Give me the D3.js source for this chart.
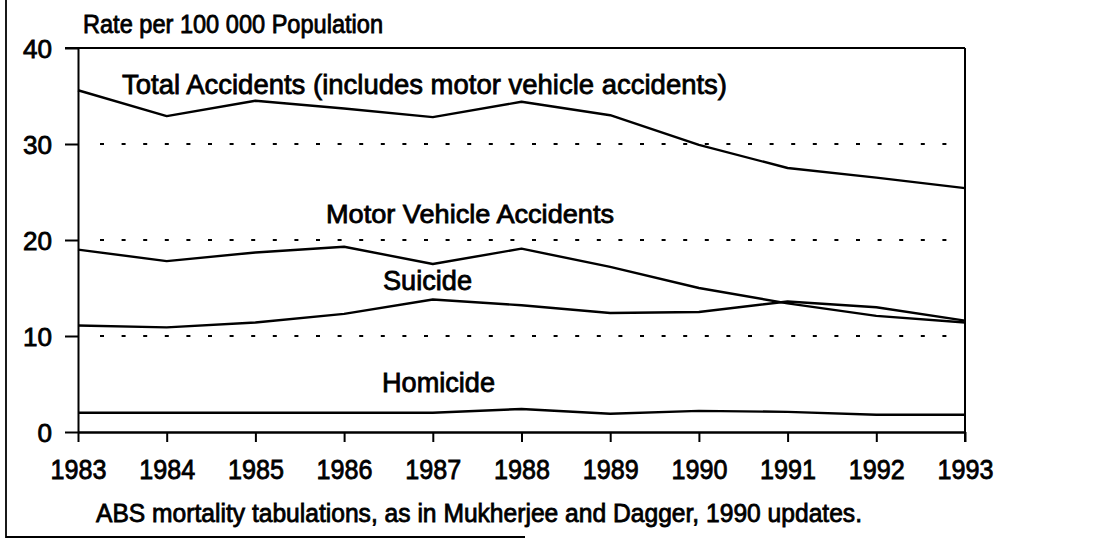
<!DOCTYPE html>
<html>
<head>
<meta charset="utf-8">
<script src="https://cdn.jsdelivr.net/npm/d3@7"></script>
<style>
  body { margin: 0; background: #fff; }
  text { font-family: "Liberation Sans", Arial, sans-serif; fill: #000; stroke: #000; stroke-width: 0.8; }
</style>
</head>
<body>
<svg id="chart" width="1096" height="553"></svg>
<script>
const years = [1983, 1984, 1985, 1986, 1987, 1988, 1989, 1990, 1991, 1992, 1993];
const totalAccidents = [35.6, 32.9, 34.5, 33.7, 32.8, 34.4, 33.0, 29.9, 27.5, 26.5, 25.4];
const motorVehicle = [19.0, 17.8, 18.7, 19.3, 17.5, 19.1, 17.2, 15.0, 13.4, 12.1, 11.4];
const suicide = [11.1, 10.9, 11.4, 12.3, 13.8, 13.2, 12.4, 12.5, 13.6, 13.0, 11.6];
const homicide = [2.0, 2.0, 2.0, 2.0, 2.0, 2.4, 1.9, 2.2, 2.1, 1.8, 1.8];
const yTicks = [0, 10, 20, 30, 40];
const gridTicks = [10, 20, 30];

const seriesList = [
  { name: "Total Accidents (includes motor vehicle accidents)", values: totalAccidents, lx: 122, ly: 94, w: 605, fs: 28 },
  { name: "Motor Vehicle Accidents", values: motorVehicle, lx: 326, ly: 223, w: 288, fs: 26 },
  { name: "Suicide", values: suicide, lx: 383, ly: 290, w: 89, fs: 27 },
  { name: "Homicide", values: homicide, lx: 382, ly: 392, w: 113, fs: 27 }
];

const svg = d3.select("#chart");
const x = d3.scaleLinear().domain([1983, 1993]).range([78, 965]);
const y = d3.scaleLinear().domain([0, 40]).range([432, 48]);

// outer frame (left and bottom only)
svg.append("line").attr("x1", 6).attr("x2", 6).attr("y1", 0).attr("y2", 538)
  .attr("stroke", "#000").attr("stroke-width", 1.8);
svg.append("line").attr("x1", 6).attr("x2", 525).attr("y1", 537).attr("y2", 537)
  .attr("stroke", "#000").attr("stroke-width", 1.8);

// dotted grid
svg.append("g").selectAll("line").data(gridTicks).join("line")
  .attr("x1", 100).attr("x2", 955)
  .attr("y1", d => y(d)).attr("y2", d => y(d))
  .attr("stroke", "#000").attr("stroke-width", 2)
  .attr("stroke-dasharray", "4 17.6");

// y axis
const yAxis = svg.append("g").attr("transform", "translate(78,0)")
  .call(d3.axisLeft(y).tickValues(yTicks).tickSize(13).tickPadding(13).tickSizeOuter(0));
yAxis.select(".domain").attr("stroke-width", 2);
yAxis.selectAll(".tick line").attr("stroke-width", 2);
yAxis.selectAll("text").attr("font-size", 25).attr("font-family", null).attr("fill", null)
  .attr("dy", "0.36em")
  .attr("textLength", d => String(d).length * 14.5).attr("lengthAdjust", "spacingAndGlyphs");

// right frame
svg.append("line").attr("x1", x(1993)).attr("x2", x(1993)).attr("y1", y(40)).attr("y2", y(0) + 10)
  .attr("stroke", "#000").attr("stroke-width", 2);
// top frame
svg.append("line").attr("x1", 65).attr("x2", x(1993)).attr("y1", y(40)).attr("y2", y(40))
  .attr("stroke", "#000").attr("stroke-width", 2);

// x axis
const xAxis = svg.append("g").attr("transform", `translate(0,${y(0)})`)
  .call(d3.axisBottom(x).tickValues(years).tickFormat(d3.format("d")).tickSize(10).tickPadding(0).tickSizeOuter(0));
xAxis.select(".domain").attr("stroke-width", 2.4);
xAxis.selectAll(".tick line").attr("stroke-width", 2);
xAxis.selectAll("text").attr("font-size", 27).attr("font-family", null).attr("fill", null)
  .attr("y", 47).attr("dy", null)
  .attr("textLength", 56).attr("lengthAdjust", "spacingAndGlyphs");

// series lines
const line = d3.line().x((d, i) => x(years[i])).y(d => y(d));
svg.append("g").selectAll("path").data(seriesList).join("path")
  .attr("d", d => line(d.values))
  .attr("fill", "none").attr("stroke", "#000").attr("stroke-width", 2.4)
  .attr("stroke-linejoin", "round");

// series labels
svg.append("g").selectAll("text").data(seriesList).join("text")
  .attr("x", d => d.lx).attr("y", d => d.ly)
  .attr("font-size", d => d.fs)
  .attr("textLength", d => d.w).attr("lengthAdjust", "spacingAndGlyphs")
  .text(d => d.name);

// titles
svg.append("text").attr("x", 83).attr("y", 33).attr("font-size", 25)
  .attr("textLength", 300).attr("lengthAdjust", "spacingAndGlyphs")
  .text("Rate per 100 000 Population");
svg.append("text").attr("x", 96).attr("y", 522).attr("font-size", 25)
  .attr("textLength", 766).attr("lengthAdjust", "spacingAndGlyphs")
  .text("ABS mortality tabulations, as in Mukherjee and Dagger, 1990 updates.");
</script>
</body>
</html>
